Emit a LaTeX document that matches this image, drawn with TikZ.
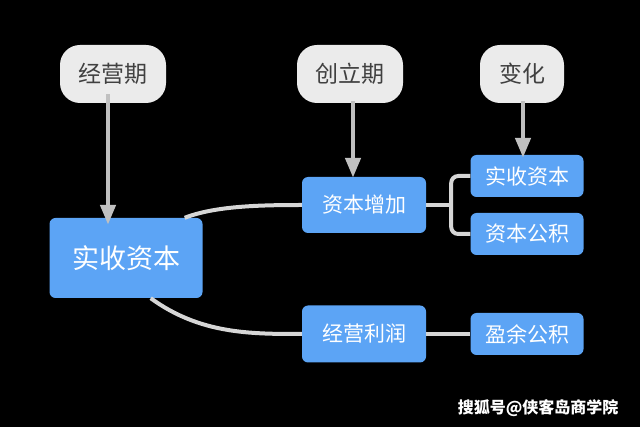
\documentclass[tikz,border=0pt]{standalone}
\usepackage{fontspec}
\setmainfont{Noto Sans CJK SC}
\usetikzlibrary{arrows.meta,calc}
\definecolor{nodeblue}{RGB}{92,164,245}
\definecolor{bubble}{RGB}{235,235,235}
\definecolor{conn}{RGB}{214,214,214}
\definecolor{arr}{RGB}{192,192,192}
\tikzset{
  bluebox/.style={fill=nodeblue, text=white, rounded corners=6pt, inner sep=0pt, align=center},
  bubblebox/.style={fill=bubble, text=black!75, rounded corners=20pt, inner sep=0pt, minimum width=106pt, minimum height=58pt, font=\fontsize{23}{26}\selectfont},
  smallbox/.style={bluebox, minimum width=113pt, minimum height=42pt, font=\fontsize{21}{24}\selectfont},
  midbox/.style={bluebox, minimum width=124pt, minimum height=56pt, font=\fontsize{21}{24}\selectfont},
  connline/.style={draw=conn, line width=4pt},
  downarrow/.style={draw=arr, line width=4.5pt, -{Triangle[width=15pt,length=20pt]}, arr}
}
\begin{document}
\begin{tikzpicture}[x=1pt,y=-1pt]
\fill[black] (0,0) rectangle (640,427);
\useasboundingbox (0,0) rectangle (640,427);
% nodes
\node[bubblebox] (jyq) at (113,74) {经营期};
\node[bubblebox] (clq) at (350,74) {创立期};
\node[bubblebox, minimum width=84pt] (bh) at (522,74) {变化};
\node[bluebox, minimum width=153pt, minimum height=80pt, font=\fontsize{27}{30}\selectfont] (big) at (126,258) {实收资本};
\node[midbox] (zbzj) at (364,205) {资本增加};
\node[midbox, minimum height=57pt] (jylr) at (364,334) {经营利润};
\node[smallbox] (sszb) at (527,176) {实收资本};
\node[smallbox] (zbgj) at (527,234) {资本公积};
\node[smallbox] (yygj) at (527,334) {盈余公积};
\node[text=white, font=\fontsize{16}{18}\selectfont\bfseries, anchor=east] (wm) at (622,408) {搜狐号@侠客岛商学院};
% connectors
\draw[connline] ([xshift=-18pt]big.north east) .. controls (215,206) and (260,205) .. (zbzj.west);
\draw[connline] ([xshift=-52pt]big.south east) .. controls (200,334) and (250,334) .. (jylr.west);
\coordinate (j) at ($(zbzj.east)+(25,0)$);
\draw[connline] (zbzj.east) -- (j);
\draw[connline, rounded corners=7pt] (sszb.west) -| (j) |- (zbgj.west);
\draw[connline] (jylr.east) -- (yygj.west);
% arrows
\draw[downarrow] ([xshift=-5pt, yshift=9pt]jyq.south) -- ([xshift=-18pt, yshift=-7pt]big.north);
\draw[downarrow] ([xshift=3pt, yshift=2pt]clq.south) -- ([xshift=-11pt, yshift=-1pt]zbzj.north);
\draw[downarrow] ([xshift=1pt, yshift=2pt]bh.south) -- ([xshift=-4pt, yshift=-3pt]sszb.north);
\end{tikzpicture}
\end{document}
